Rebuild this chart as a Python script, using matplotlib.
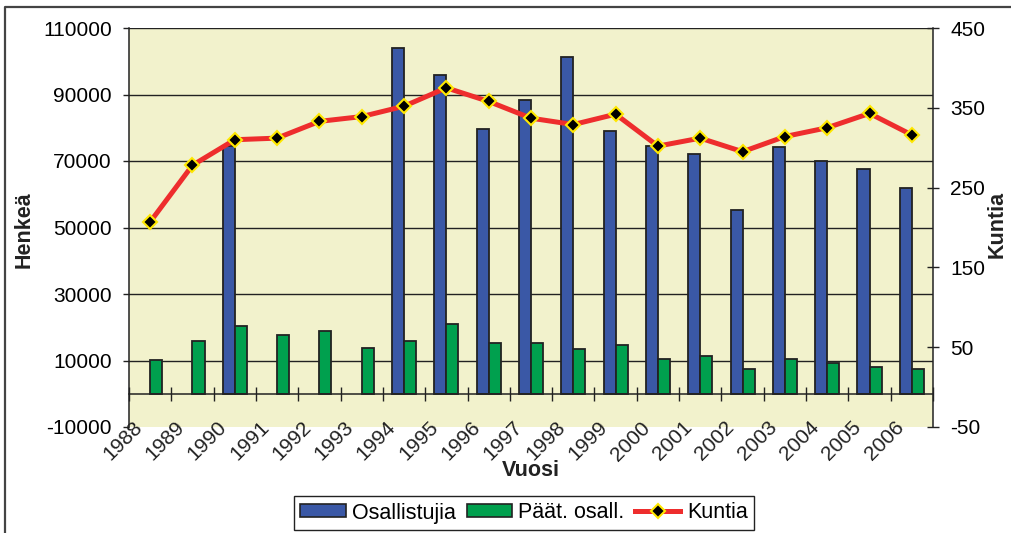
import numpy as np
import matplotlib
matplotlib.use("Agg")
import matplotlib.pyplot as plt
from matplotlib.lines import Line2D
from matplotlib.patches import Patch
import matplotlib.transforms as mtransforms

plt.rcParams['font.family'] = ['Liberation Sans', 'DejaVu Sans']
plt.rcParams['axes.unicode_minus'] = False

years = ["1988", "1989", "1990", "1991", "1992", "1993", "1994", "1995", "1996", "1997",
         "1998", "1999", "2000", "2001", "2002", "2003", "2004", "2005", "2006"]
osallistujia = [None, None, 74500, None, None, None, 104000, 95800, 79600, 88300,
                101400, 79100, 74500, 72000, 55400, 74100, 70000, 67500, 61900]
paat_osall = [10300, 15900, 20300, 17800, 18900, 13800, 15900, 20900, 15400, 15400,
              13400, 14800, 10400, 11300, 7400, 10400, 9200, 7900, 7400]
kuntia = [207, 278, 310, 312, 333, 339, 352, 375, 358, 337,
          329, 342, 302, 312, 295, 314, 325, 343, 316]
left_ticks = [-10000, 10000, 30000, 50000, 70000, 90000, 110000]
right_ticks = [-50, 50, 150, 250, 350, 450]

BLUE = '#3A58A6'
GREEN = '#00A04E'
RED = '#EE2D2D'
BG = '#F2F2CC'
DARK = '#222222'
FS = 15

W, H = 1012, 533
fig = plt.figure(figsize=(W / 100, H / 100), dpi=100)
ax = fig.add_axes([129 / W, 1 - 427 / H, 804 / W, 399 / H])
ax.set_facecolor(BG)

x = np.arange(len(years))
blue_vals = np.array([np.nan if v is None else v for v in osallistujia], dtype=float)
green_vals = np.array(paat_osall, dtype=float)
bw = 0.285
ax.bar(x - bw / 2, blue_vals, width=bw, color=BLUE, edgecolor=DARK, linewidth=1.3, zorder=2)
ax.bar(x + bw / 2, green_vals, width=bw, color=GREEN, edgecolor=DARK, linewidth=1.3, zorder=2)

ax.set_xlim(-0.5, len(years) - 0.5)
ax.set_ylim(-10000, 110000)
ax.set_yticks(left_ticks)
ax.set_yticklabels([str(t) for t in left_ticks], fontsize=FS)
for t in left_ticks[1:]:
    ax.axhline(t, color=DARK, lw=1.0, zorder=1)

ax.spines['bottom'].set_position(('data', 0))
ax.spines['bottom'].set_zorder(3)
ax.spines['right'].set_visible(False)
ax.spines['top'].set_visible(False)
for s in ['left', 'bottom']:
    ax.spines[s].set_color(DARK)
    ax.spines[s].set_linewidth(1.1)
ax.set_xticks(np.arange(-0.5, len(years), 1.0))
ax.tick_params(axis='x', direction='inout', length=9.5, width=1.0, color=DARK, labelbottom=False)
ax.tick_params(axis='y', direction='out', length=4.5, width=1.0, color=DARK, pad=8.0)

# category labels at category boundaries, rotated
trans = mtransforms.blended_transform_factory(ax.transData, ax.transAxes)
for i, lab in enumerate(years):
    ax.text(i - 0.5 + 0.235, 0.006, lab, transform=trans, rotation=45,
            rotation_mode='anchor', ha='right', va='center', fontsize=FS,
            color='#222222', clip_on=False, zorder=6)

ax2 = ax.twinx()
ax2.set_ylim(-50, 450)
ax2.set_yticks(right_ticks)
ax2.set_yticklabels([str(t) for t in right_ticks], fontsize=FS)
for s in ['left', 'top', 'bottom']:
    ax2.spines[s].set_visible(False)
ax2.spines['right'].set_color(DARK)
ax2.spines['right'].set_linewidth(1.1)
ax2.tick_params(axis='y', direction='inout', length=8.6, width=1.0, color=DARK, pad=8.0)
ax2.plot(x, kuntia, color=RED, lw=3.6, marker='D', markersize=7.5,
         markerfacecolor='black', markeredgecolor='#FFE800', markeredgewidth=1.5,
         zorder=5, clip_on=False)

fig.text(24.5 / W, 1 - 230 / H, 'Henkeä', rotation=90, ha='center', va='center',
         fontsize=15.5, fontweight='bold', color='#222222')
fig.text(997 / W, 1 - 224 / H, 'Kuntia', rotation=90, ha='center', va='center',
         fontsize=15.5, fontweight='bold', color='#222222')
fig.text(530.5 / W, 1 - 471 / H, 'Vuosi', ha='center', va='center',
         fontsize=15.5, fontweight='bold', color='#222222')

# outer chart border (left + top visible)
fig.add_artist(Line2D([5 / W, 5 / W, 1.0], [0.0, 1 - 7 / H, 1 - 7 / H],
                      transform=fig.transFigure, color='#444444', lw=1.6))

handles = [Patch(facecolor=BLUE, edgecolor=DARK, linewidth=1.2),
           Patch(facecolor=GREEN, edgecolor=DARK, linewidth=1.2),
           Line2D([], [], color=RED, lw=3.6, marker='D', markersize=7.5,
                  markerfacecolor='black', markeredgecolor='#FFE800', markeredgewidth=1.5)]
leg = fig.legend(handles, ['Osallistujia', 'Päät. osall.', 'Kuntia'], loc='center',
                 bbox_to_anchor=(524 / W, 1 - 513 / H), ncol=3, frameon=True,
                 fancybox=False, edgecolor=DARK, framealpha=1, fontsize=15.5,
                 handlelength=2.1, handleheight=0.56, handletextpad=0.3,
                 columnspacing=0.5, borderpad=0.3, borderaxespad=0)
leg.get_frame().set_linewidth(1.0)

fig.savefig('out.png', dpi=100)
